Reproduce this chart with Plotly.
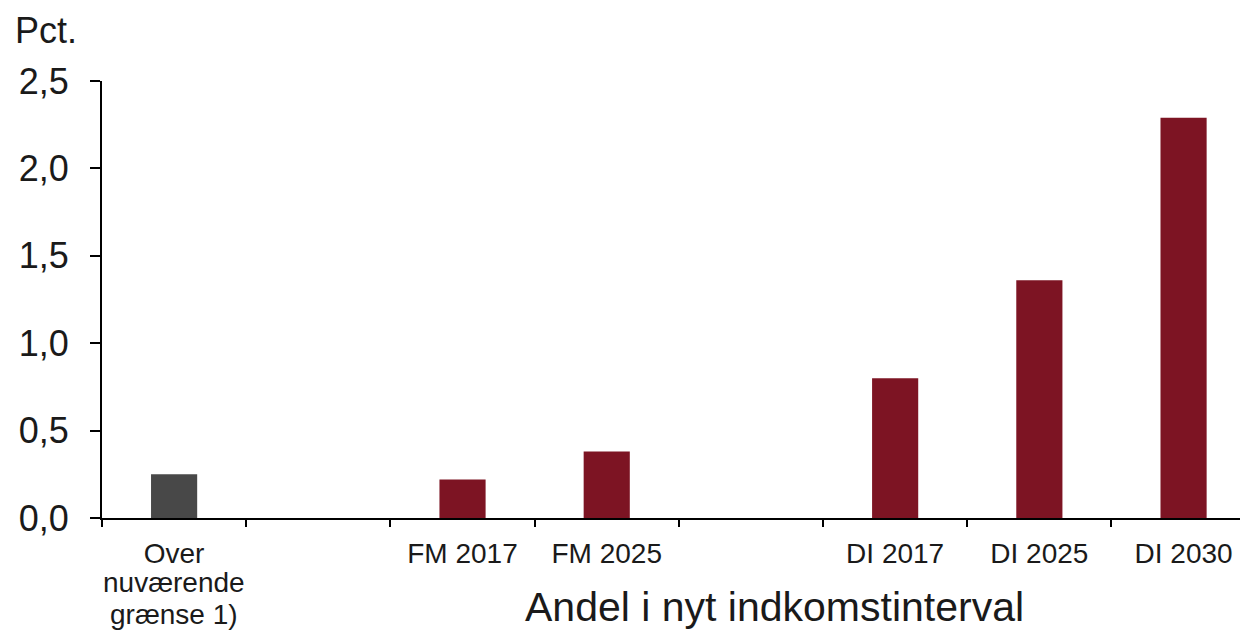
import plotly.graph_objects as go

# ---- data ----
categories = ["Over nuværende grænse 1)", " ", "FM 2017", "FM 2025", "  ",
              "DI 2017", "DI 2025", "DI 2030"]
tick_labels = ["Over", "", "FM 2017", "FM 2025", "", "DI 2017", "DI 2025", "DI 2030"]
first_label_extra_lines = ["nuværende", "grænse 1)"]
values = [0.25, None, 0.22, 0.38, None, 0.80, 1.36, 2.29]
highlight_category = "Over nuværende grænse 1)"
y_ticks = [0.0, 0.5, 1.0, 1.5, 2.0, 2.5]

# ---- style ----
RED = "#7D1423"
GREY = "#484848"
FONT = "Liberation Sans, Arial, sans-serif"
TXT = "#1a1a1a"
colors = [GREY if c == highlight_category else RED for c in categories]

fig = go.Figure()
fig.add_trace(go.Bar(
    x=categories, y=values,
    marker=dict(color=colors, line=dict(width=0)),
    width=0.32,
    showlegend=False,
))

annotations = [
    dict(text="Pct.", xref="paper", yref="paper", x=-0.0779, y=1.1167,
         xanchor="left", yanchor="middle", showarrow=False,
         font=dict(size=36, family=FONT, color=TXT)),
    dict(text="Andel i nyt indkomstinterval", xref="paper", yref="paper",
         x=0.5888, y=-0.2030, xanchor="center", yanchor="middle",
         showarrow=False, font=dict(size=41, family=FONT, color=TXT)),
]
for yy, line in zip([-0.1487, -0.2197], first_label_extra_lines):
    annotations.append(dict(
        text=line, xref="x", yref="paper", x=highlight_category, y=yy,
        xanchor="center", yanchor="middle", showarrow=False,
        font=dict(size=28, family=FONT, color=TXT)))

fig.update_layout(
    width=1248, height=630,
    margin=dict(l=94, r=11, t=73, b=120),
    plot_bgcolor="white", paper_bgcolor="white",
    separators=",.",
    font=dict(family=FONT, color=TXT),
    annotations=annotations,
)

fig.update_xaxes(
    type="category", categoryorder="array", categoryarray=categories,
    tickmode="array", tickvals=categories, ticktext=tick_labels,
    range=[-0.5, 7.426],
    tickson="boundaries", ticks="outside", ticklen=7, tickwidth=1.5,
    tickcolor="black", showline=True, linewidth=2, linecolor="black",
    showgrid=False, zeroline=False, tickangle=0, automargin=False,
    tickfont=dict(size=28, family=FONT, color=TXT),
    ticklabelstandoff=9,
)
fig.update_yaxes(
    range=[0, 2.5], tickvals=y_ticks, tickformat=".1f",
    ticks="outside", ticklen=10, tickwidth=1.5, tickcolor="black",
    showline=True, linewidth=2, linecolor="black",
    showgrid=False, zeroline=False, automargin=False,
    tickfont=dict(size=36, family=FONT, color=TXT),
    ticklabelstandoff=14,
)

fig.write_html("out.html")
